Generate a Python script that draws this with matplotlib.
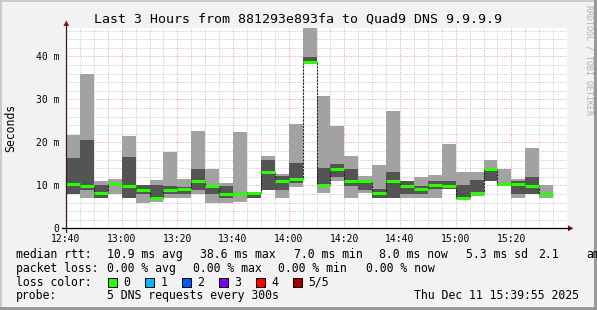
import numpy as np
import matplotlib.pyplot as plt
from matplotlib.patches import Rectangle, Polygon
from matplotlib.lines import Line2D

W, H = 597, 310
MONO = 'DejaVu Sans Mono'

# minutes after 12:40, one smokeping step every 5 minutes
step_start = np.arange(0, 175, 5)

# 5 pings per step (ms): outer smoke, inner smoke and median
light_lo = [8.0, 7.1, 7.1, 8.0, 7.1, 6.0, 6.2, 7.1, 7.1, 8.0, 6.0, 6.0, 6.2, 7.1, 8.9, 7.1, 9.5, 38.6,
            8.3, 10.9, 7.1, 8.1, 7.1, 7.1, 7.1, 7.1, 7.1, 9.1, 7.1, 7.4, 11.1, 9.9, 7.1, 8.0, 7.1]
dark_lo = [8.0, 8.9, 7.1, 9.9, 7.1, 8.0, 7.1, 8.0, 8.0, 8.9, 8.0, 7.1, 7.8, 7.1, 8.9, 8.9, 10.5, 38.6,
           10.1, 11.9, 9.9, 8.9, 7.1, 7.1, 8.0, 8.0, 9.1, 9.1, 7.1, 8.3, 11.1, 9.9, 8.0, 8.0, 7.8]
median = [10.2, 9.9, 8.1, 10.2, 9.9, 8.9, 7.1, 8.9, 9.2, 11.1, 9.9, 8.0, 8.0, 8.3, 13.0, 11.1, 11.5, 38.6,
          10.1, 13.8, 11.1, 10.9, 8.3, 11.1, 9.9, 9.2, 10.1, 9.9, 7.1, 8.3, 13.8, 10.2, 10.2, 9.9, 8.0]
dark_hi = [16.3, 20.6, 10.1, 10.4, 16.7, 10.1, 10.1, 9.9, 9.6, 13.8, 9.9, 9.9, 8.3, 8.5, 15.9, 12.2, 15.3, 39.8,
           14.0, 15.0, 13.8, 11.2, 9.1, 13.0, 11.0, 9.9, 11.0, 11.0, 10.1, 11.3, 13.8, 10.5, 10.9, 12.0, 8.2]
light_hi = [21.7, 36.0, 11.0, 11.5, 21.5, 10.1, 11.3, 17.8, 11.4, 22.7, 13.8, 10.5, 22.4, 8.5, 16.9, 12.7, 24.3, 46.6,
            30.8, 23.8, 16.9, 12.2, 14.8, 27.3, 11.0, 12.0, 12.4, 19.6, 13.1, 13.1, 15.9, 13.8, 11.4, 18.7, 10.0]

x_ticks = [0, 20, 40, 60, 80, 100, 120, 140, 160]
x_labels = ['12:40', '13:00', '13:20', '13:40', '14:00', '14:20', '14:40', '15:00', '15:20']
y_ticks = [0, 10, 20, 30, 40]
y_labels = ['0', '10 m', '20 m', '30 m', '40 m']

loss_labels = ['0', '1', '2', '3', '4', '5/5']
loss_colors = ['#26ff00', '#00b8ff', '#0059ff', '#7e00ff', '#ff0000', '#a10000']

# legend rows, rrdtool justifies the items so each has its own x (px)
rtt_items = [('median rtt:', 16), ('10.9 ms avg', 107.3), ('38.6 ms max', 200), ('7.0 ms min', 294),
             ('8.0 ms now', 379.3), ('5.3 ms sd', 465.7), ('2.1', 538.3), ('am', 586.7)]
loss_items = [('packet loss:', 16), ('0.00 % avg', 107.3), ('0.00 % max', 193.3),
              ('0.00 % min', 278.3), ('0.00 % now', 366)]
probe_items = [('probe:', 16), ('5 DNS requests every 300s', 107.3), ('Thu Dec 11 15:39:55 2025', 414)]


def fx(x):
    return x / W


def fy(y):
    return 1 - y / H


fig = plt.figure(figsize=(W / 100, H / 100), dpi=100, facecolor='#f2f2f2')

# 3d-ish frame around the canvas
fig.add_artist(Rectangle((0, fy(2)), 1, 2 / H, transform=fig.transFigure, color='#cbcbcb', lw=0))
fig.add_artist(Rectangle((0, 0), 2 / W, 1, transform=fig.transFigure, color='#cbcbcb', lw=0))
fig.add_artist(Rectangle((0, 0), 1, 3 / H, transform=fig.transFigure, color='#999999', lw=0))
fig.add_artist(Rectangle((fx(594), 0), 3 / W, 1, transform=fig.transFigure, color='#999999', lw=0))

ax = fig.add_axes([fx(66), fy(228.3), 501 / W, 200.3 / H])
ax.set_facecolor('white')
ax.set_xlim(0, 180)
ax.set_ylim(0, 46.6)
for s in ax.spines.values():
    s.set_visible(False)

# grid: minor grey, major red, all dotted
for m in range(5, 180, 5):
    if m % 20:
        ax.axvline(m, color='#c4c4c4', lw=0.7, ls=(0, (1, 1.5)), zorder=0)
    else:
        ax.axvline(m, color='#eb9a9a', lw=0.7, ls=(0, (1, 1.5)), zorder=0)
for v in range(2, 47, 2):
    if v % 10:
        ax.axhline(v, color='#c4c4c4', lw=0.7, ls=(0, (1, 1.5)), zorder=0)
    else:
        ax.axhline(v, color='#eb9a9a', lw=0.7, ls=(0, (1, 1.5)), zorder=0)

lo1 = np.array(light_lo)
lo2 = np.array(dark_lo)
hi2 = np.array(dark_hi)
hi1 = np.array(light_hi)
med = np.array(median)

ax.bar(step_start, hi1 - lo1, bottom=lo1, width=5, align='edge', color='#a2a2a2', lw=0, zorder=1)
ax.bar(step_start, hi2 - lo2, bottom=lo2, width=5, align='edge', color='#545454', lw=0, zorder=2)

# median as a dark step line, green segments on top (loss 0)
ax.step(np.append(step_start, 175), np.append(med, med[-1]), where='post',
        color='#202020', lw=0.8, ls=(0, (2, 1)), zorder=3)
ax.hlines(med, step_start, step_start + 5, color='#26ff00', lw=2.2, zorder=4)

ax.set_xticks(x_ticks, x_labels)
ax.set_yticks(y_ticks, y_labels)
ax.tick_params(length=0, labelsize=7)
ax.tick_params(axis='x', pad=4)
ax.tick_params(axis='y', pad=5)
for lab in ax.get_xticklabels() + ax.get_yticklabels():
    lab.set_family(MONO)

# axes with arrows
fig.add_artist(Line2D([fx(62), fx(569)], [fy(228.3), fy(228.3)], color='black', lw=0.9))
fig.add_artist(Line2D([fx(66.3), fx(66.3)], [fy(232), fy(25)], color='#3a1a1a', lw=0.9))
fig.add_artist(Polygon([(fx(568), fy(225.3)), (fx(573.5), fy(228.3)), (fx(568), fy(231.3))],
                       closed=True, transform=fig.transFigure, color='#8b1a1a', lw=0))
fig.add_artist(Polygon([(fx(63.3), fy(26)), (fx(66.3), fy(20.5)), (fx(69.3), fy(26))],
                       closed=True, transform=fig.transFigure, color='#8b1a1a', lw=0))

fig.text(0.5, fy(19.3), 'Last 3 Hours from 881293e893fa to Quad9 DNS 9.9.9.9',
         family=MONO, fontsize=9.5, ha='center', va='center')
fig.text(fx(11), fy(128), 'Seconds', family=MONO, fontsize=8.3, rotation=90,
         ha='center', va='center')
fig.text(fx(588.5), fy(60), 'RRDTOOL / TOBI OETIKER', family=MONO, fontsize=6,
         rotation=270, ha='center', va='center', color='#b0b0b0')

leg = dict(family=MONO, fontsize=8.3, ha='left', va='center')
for txt, x in rtt_items:
    fig.text(fx(x), fy(254.3), txt, **leg)
for txt, x in loss_items:
    fig.text(fx(x), fy(268.3), txt, **leg)
fig.text(fx(16), fy(282.3), 'loss color:', **leg)
for i, (lab, col) in enumerate(zip(loss_labels, loss_colors)):
    sx = 108.3 + 37 * i
    fig.add_artist(Rectangle((fx(sx), fy(286.7)), 8.5 / W, 8.5 / H, transform=fig.transFigure,
                             facecolor=col, edgecolor='black', lw=0.7))
    fig.text(fx(sx + 15), fy(282.3), lab, **leg)
for txt, x in probe_items:
    fig.text(fx(x), fy(295.7), txt, **leg)

fig.savefig('out.png', dpi=100, facecolor=fig.get_facecolor())
